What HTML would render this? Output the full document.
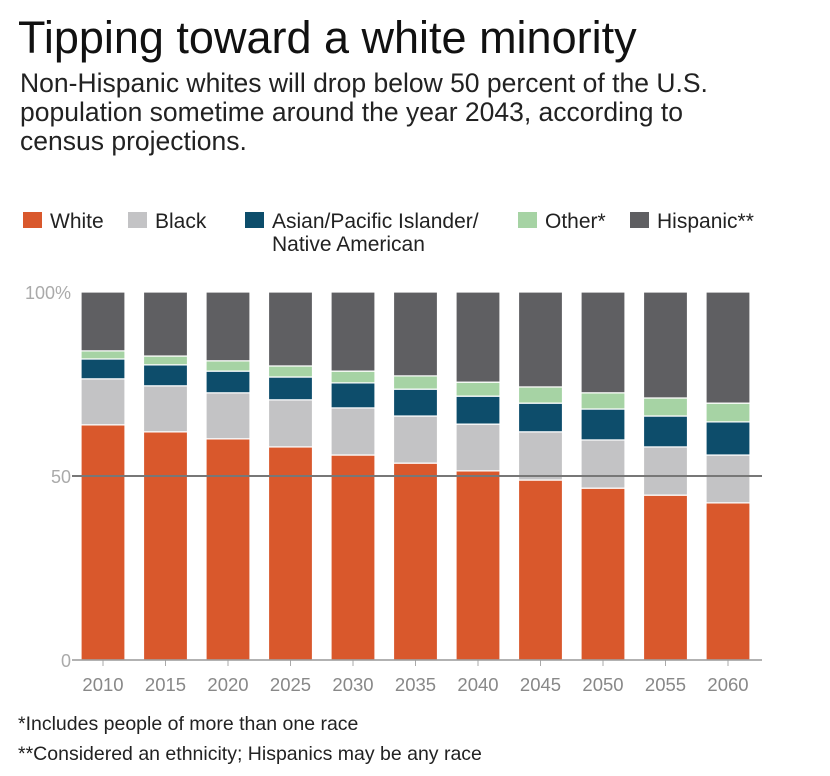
<!DOCTYPE html>
<html><head><meta charset="utf-8"><style>
body{margin:0;background:#fff;font-family:"Liberation Sans",sans-serif;}
#wrap{position:relative;width:830px;height:776px;overflow:hidden;}
.t{position:absolute;white-space:nowrap;}
</style></head><body>
<div id="wrap">
<div class="t" style="left:18px;top:12px;font-size:45px;color:#111;">Tipping toward a white minority</div>
<div class="t" style="left:20px;top:69px;font-size:26.5px;line-height:29px;color:#222;white-space:normal;width:810px;">Non-Hispanic whites will drop below 50 percent of the U.S.<br>population sometime around the year 2043, according to<br>census projections.</div>
<svg id="c" width="830" height="776" style="position:absolute;left:0;top:0"></svg>
</div>
<script>
const years=["2010","2015","2020","2025","2030","2035","2040","2045","2050","2055","2060"];
const white=[63.9,62.0,60.1,57.9,55.7,53.5,51.4,48.9,46.7,44.8,42.7];
const black=[12.5,12.5,12.5,12.8,12.8,12.8,12.7,13.1,13.1,13.1,13.0];
const asian=[5.4,5.7,5.9,6.2,6.8,7.3,7.6,7.8,8.4,8.4,9.0];
const other=[2.2,2.4,2.8,3.0,3.2,3.6,3.8,4.4,4.4,4.9,5.1];
const hispanic=years.map((y,i)=>100-white[i]-black[i]-asian[i]-other[i]);
const series=[["white",white,"#d9582c"],["black",black,"#c3c3c5"],["asian",asian,"#0d4d6b"],["other",other,"#a6d3a4"],["hispanic",hispanic,"#5f5f62"]];
const yTicks=[0,50,100];
const yTickLabels=["0","50","100%"];
const NS="http://www.w3.org/2000/svg";
const svg=document.getElementById("c");
const y0=660,y100=292,x0=81,step=62.5,bw=44;
const yS=v=>y0-(y0-y100)*v/100;
const xS=i=>x0+i*step;
function mk(t,a){const e=document.createElementNS(NS,t);for(const k in a)e.setAttribute(k,a[k]);svg.appendChild(e);return e;}
years.forEach((yr,i)=>{
  let cum=0;
  series.forEach(([n,arr,col])=>{
    const v=arr[i];
    const r=mk("rect",{x:xS(i),y:yS(cum+v),width:bw,height:yS(cum)-yS(cum+v),fill:col,stroke:"#fff","stroke-width":1.2});
    
    
    cum+=v;
  });
  const tk=mk("line",{x1:xS(i)+bw/2,x2:xS(i)+bw/2,y1:y0,y2:y0+6,stroke:"#aaa","stroke-width":1});
  
  
  const t=mk("text",{x:xS(i)+bw/2,y:691,"text-anchor":"middle","font-size":18.5,fill:"#888"});
  t.textContent=yr;
  
  
});
yTicks.forEach((v,i)=>{
  const t=mk("text",{x:71,y:yS(v)+7,"text-anchor":"end","font-size":18,fill:"#aaa"});
  t.textContent=yTickLabels[i];
  
  
});
let l=mk("line",{x1:72,x2:762,y1:yS(50),y2:yS(50),stroke:"#777","stroke-width":2});


l=mk("line",{x1:72,x2:762,y1:y0,y2:y0,stroke:"#999","stroke-width":1.5});


const legendLabels=["White","Black","Asian/Pacific Islander/","Other*","Hispanic**"];
const legendX=[23,128,245,518,630];
series.forEach(([n,arr,col],i)=>{
  const s=mk("rect",{x:legendX[i],y:212,width:19,height:16,fill:col});
  
  
  const t=mk("text",{x:legendX[i]+27,y:228,"font-size":21,fill:"#222"});
  t.textContent=legendLabels[i];
  
  
});
let t2=mk("text",{x:272,y:251,"font-size":21,fill:"#222"});
t2.textContent="Native American";


t2=mk("text",{x:18,y:730,"font-size":19.5,fill:"#222"});
t2.textContent="*Includes people of more than one race";


t2=mk("text",{x:18,y:760,"font-size":19.5,fill:"#222"});
t2.textContent="**Considered an ethnicity; Hispanics may be any race";


</script>
</body></html>
